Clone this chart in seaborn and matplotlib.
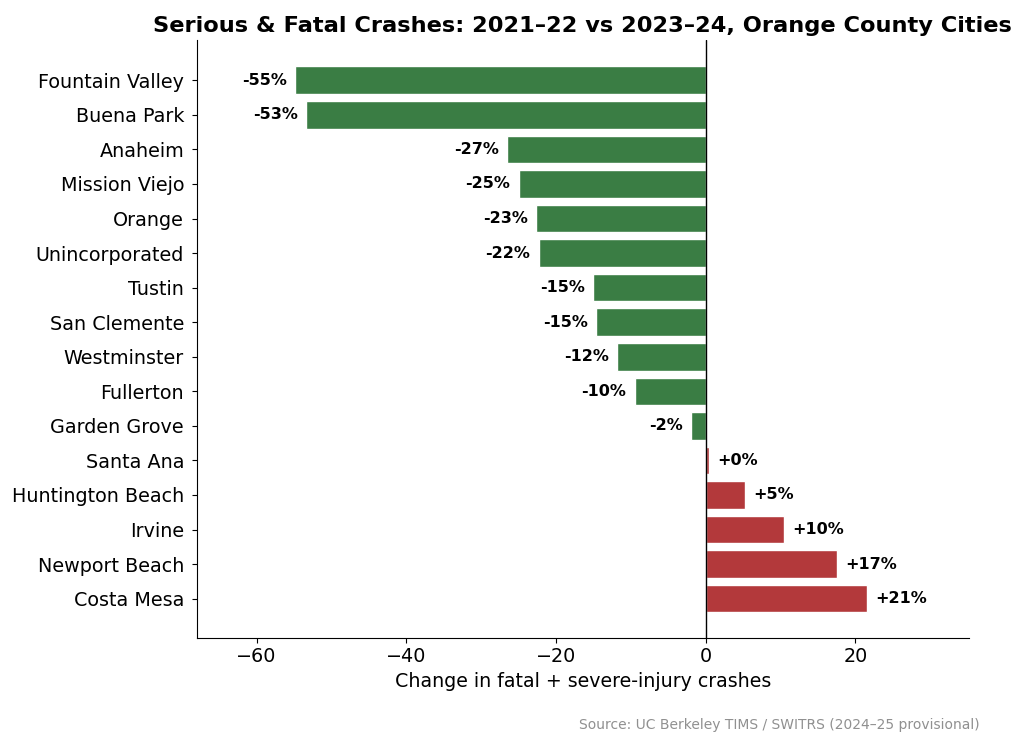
import pandas as pd
import numpy as np
import matplotlib
matplotlib.use("Agg")
import matplotlib.pyplot as plt
import seaborn as sns

cities = ["Fountain Valley", "Buena Park", "Anaheim", "Mission Viejo", "Orange",
          "Unincorporated", "Tustin", "San Clemente", "Westminster", "Fullerton",
          "Garden Grove", "Santa Ana", "Huntington Beach", "Irvine", "Newport Beach",
          "Costa Mesa"]
crash_change = [-54.8, -53.4, -26.5, -25.0, -22.6, -22.3, -15.0, -14.6, -11.8, -9.5,
                -1.9, 0.4, 5.3, 10.4, 17.5, 21.5]
pct_labels = ["-55%", "-53%", "-27%", "-25%", "-23%", "-22%", "-15%", "-15%", "-12%",
              "-10%", "-2%", "+0%", "+5%", "+10%", "+17%", "+21%"]

green = "#3a7d44"
red = "#b3393b"

df = pd.DataFrame({"city": cities, "change": crash_change})
df["color"] = np.where(df["change"] < 0, green, red)

sns.set_style("ticks")
plt.rcParams["font.family"] = ["DejaVu Sans"]
for k in ["text.color", "axes.labelcolor", "xtick.color", "ytick.color", "axes.edgecolor"]:
    plt.rcParams[k] = "black"

fig = plt.figure(figsize=(10.24, 7.45), dpi=100)
ax = fig.add_axes([0.192, 0.144, 0.7545, 0.802])

sns.barplot(data=df, x="change", y="city", hue="city", palette=list(df["color"]),
            legend=False, saturation=1, width=0.8, ax=ax)

ax.axvline(0, color="black", linewidth=1)

# percent labels at the bar ends
for i, (v, label) in enumerate(zip(crash_change, pct_labels)):
    if v < 0:
        ax.annotate(label, (v, i), xytext=(-6, 0), textcoords="offset points",
                    ha="right", va="center", fontsize=11.5, fontweight="bold")
    else:
        ax.annotate(label, (v, i), xytext=(6, 0), textcoords="offset points",
                    ha="left", va="center", fontsize=11.5, fontweight="bold")

ax.set_xlim(-68.0, 35.2)
ax.set_ylim(16.13, -1.16)
ax.set_xlabel("Change in fatal + severe-injury crashes", fontsize=13.7)
ax.set_ylabel("")
ax.set_xticks([-60, -40, -20, 0, 20])
ax.set_xticklabels(["\u221260", "\u221240", "\u221220", "0", "20"])
ax.tick_params(axis="both", labelsize=13.8)
ax.tick_params(axis="y", pad=5.5)
sns.despine(ax=ax)

ax.set_title("Serious & Fatal Crashes: 2021\u201322 vs 2023\u201324, Orange County Cities",
             fontsize=16.2, fontweight="bold")

fig.text(0.957, 0.018, "Source: UC Berkeley TIMS / SWITRS (2024\u201325 provisional)",
         ha="right", va="bottom", fontsize=10, color="#909090")

fig.savefig("out.png", dpi=100)
